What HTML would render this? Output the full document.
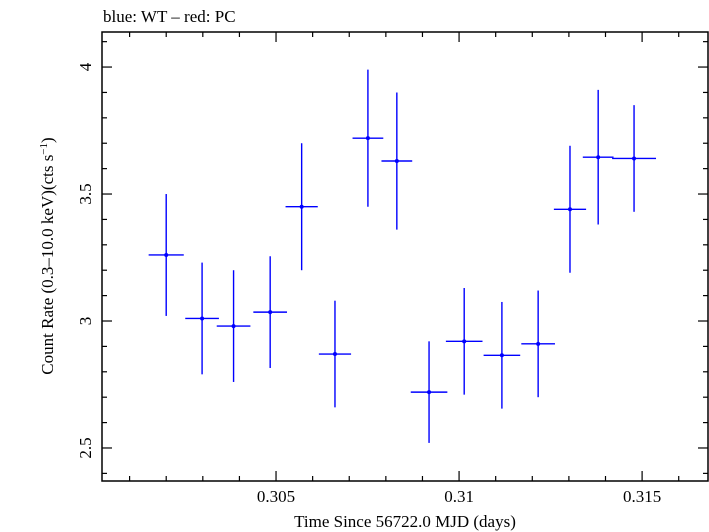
<!DOCTYPE html>
<html><head><meta charset="utf-8"><style>
html,body{margin:0;padding:0;background:#fff;}
svg{display:block;font-family:"Liberation Serif",serif;}
</style></head><body>
<svg id="chart" width="709" height="532" viewBox="0 0 709 532">
<text x="103" y="22" font-size="17" fill="#000">blue: WT – red: PC</text>
<rect x="102" y="32" width="606" height="449" fill="none" stroke="#000" stroke-width="1.5"/>
<g id="ticks"></g>
<g id="series"></g>
<text x="405" y="527" font-size="17" text-anchor="middle">Time Since 56722.0 MJD (days)</text>
<text transform="translate(53,256) rotate(-90)" font-size="17" text-anchor="middle">Count Rate (0.3–10.0 keV)(cts s<tspan dy="-6" font-size="11">−1</tspan><tspan dy="6">)</tspan></text>
</svg>
<script>
const times=[0.30200,0.30298,0.30384,0.30484,0.30570,0.30661,0.30751,0.30830,0.30918,0.31014,0.31117,0.31216,0.31303,0.31380,0.31478];
const halfWidths=[0.00048,0.00046,0.00046,0.00046,0.00044,0.00044,0.00042,0.00042,0.00050,0.00050,0.00050,0.00046,0.00044,0.00042,0.00060];
const rates=[3.26,3.01,2.98,3.035,3.45,2.87,3.72,3.63,2.72,2.92,2.865,2.91,3.44,3.645,3.64];
const errors=[0.24,0.22,0.22,0.22,0.25,0.21,0.27,0.27,0.20,0.21,0.21,0.21,0.25,0.265,0.21];
const xTickLabels=["0.305","0.31","0.315"];
const yTickLabels=["2.5","3","3.5","4"];
const X0=102,X1=708,Y0=481,Y1=32;
const xmin=0.300246,xmax=0.31680,ymin=2.370,ymax=4.138;
const sx=v=>X0+(v-xmin)/(xmax-xmin)*(X1-X0);
const sy=v=>Y0-(v-ymin)/(ymax-ymin)*(Y0-Y1);
const NS="http://www.w3.org/2000/svg";
function mk(tag,attrs,parent){const e=document.createElementNS(NS,tag);for(const k in attrs)e.setAttribute(k,attrs[k]);parent.appendChild(e);return e;}
const tg=document.getElementById('ticks');
// x ticks
for(let i=301;i<=316;i++){const v=i/1000;const x=sx(v);const major=i%5===0;const L=major?10:5;
 const t1=mk('line',{x1:x,x2:x,y1:Y0,y2:Y0-L,stroke:'#000','stroke-width':1.2},tg);
 
 
 const t2=mk('line',{x1:x,x2:x,y1:Y1,y2:Y1+L,stroke:'#000','stroke-width':1.2},tg);
 
 }
xTickLabels.forEach(s=>{const t=mk('text',{x:sx(parseFloat(s)),y:502,'font-size':17,'text-anchor':'middle'},tg);t.textContent=s;
 
 });
// y ticks
for(let i=24;i<=41;i++){const v=i/10;const y=sy(v);const major=i%5===0;const L=major?10:5;
 const t1=mk('line',{x1:X0,x2:X0+L,y1:y,y2:y,stroke:'#000','stroke-width':1.2},tg);
 
 
 const t2=mk('line',{x1:X1,x2:X1-L,y1:y,y2:y,stroke:'#000','stroke-width':1.2},tg);
 
 }
yTickLabels.forEach(s=>{const y=sy(parseFloat(s));const t=mk('text',{transform:`translate(91,${y}) rotate(-90)`,'font-size':17,'text-anchor':'middle'},tg);t.textContent=s;
 
 });
// series
const sg=document.getElementById('series');
times.forEach((t,i)=>{const g=mk('g',{},sg);
 
 
 mk('line',{x1:sx(t-halfWidths[i]),x2:sx(t+halfWidths[i]),y1:sy(rates[i]),y2:sy(rates[i]),stroke:'#0000ff','stroke-width':1.4},g);
 mk('line',{x1:sx(t),x2:sx(t),y1:sy(rates[i]-errors[i]),y2:sy(rates[i]+errors[i]),stroke:'#0000ff','stroke-width':1.4},g);
 mk('circle',{cx:sx(t),cy:sy(rates[i]),r:2,fill:'#0000ff'},g);
});
</script>
</body></html>
